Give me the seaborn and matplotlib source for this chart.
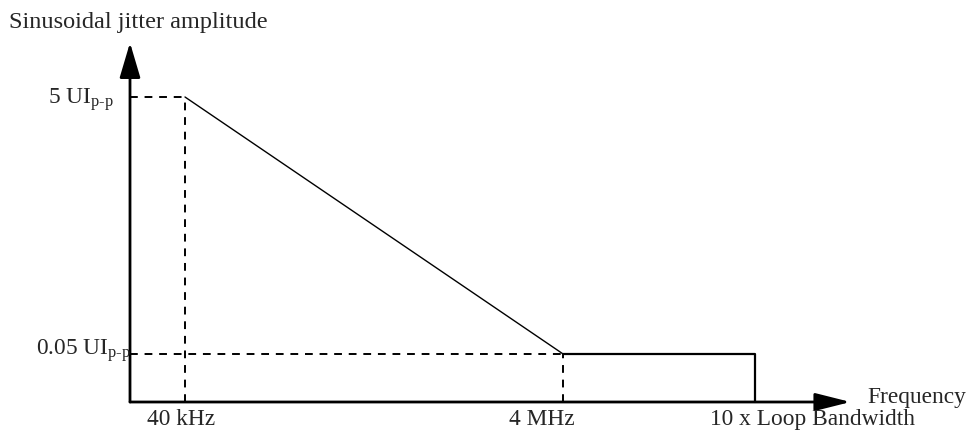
import matplotlib
matplotlib.use("Agg")
import matplotlib.pyplot as plt
import numpy as np
import pandas as pd
import seaborn as sns

# Jitter tolerance mask (schematic units, not to scale)
freq_labels = ['40 kHz', '4 MHz', '10 x Loop Bandwidth']
freq_pos = [1.0, 7.87, 11.36]          # corner frequencies on the schematic axis
amp_labels = ['5 UI', '0.05 UI']
amp_pos = [5.0, 0.79]                  # 5 UIp-p and 0.05 UIp-p levels

x_end = 13.1    # arrow tip of frequency axis
y_end = 5.89    # arrow tip of amplitude axis

sns.set_theme(style='white')
plt.rcParams['font.family'] = ['Liberation Serif', 'DejaVu Serif']
plt.rcParams['mathtext.fontset'] = 'custom'
plt.rcParams['mathtext.rm'] = 'Liberation Serif'
plt.rcParams['mathtext.it'] = 'Liberation Serif:italic'

fig = plt.figure(figsize=(9.71, 4.36), dpi=100)
ax = fig.add_axes([0, 0, 1, 1])
ax.set_xlim(-130 / 55, (971 - 130) / 55)
ax.set_ylim(-34 / 61, 402 / 61)
ax.axis('off')

# mask line: 5 UI at 40 kHz, slope down to 0.05 UI at 4 MHz, flat to 10x LBW, then drop
mask = pd.DataFrame({
    'f': [freq_pos[0], freq_pos[1], freq_pos[2], freq_pos[2]],
    'a': [amp_pos[0], amp_pos[1], amp_pos[1], 0.0],
})
sns.lineplot(data=mask.iloc[:2], x='f', y='a', sort=False, estimator=None,
             color='black', lw=1.0, ax=ax)
sns.lineplot(data=mask.iloc[1:], x='f', y='a', sort=False, estimator=None,
             color='black', lw=1.6, ax=ax)

# dashed guide lines
dash = dict(color='black', lw=1.4, ls=(0, (4, 3.5)))
ax.plot([0, freq_pos[0]], [amp_pos[0], amp_pos[0]], **dash)
ax.plot([freq_pos[0], freq_pos[0]], [0, amp_pos[0]], **dash)
ax.plot([0, freq_pos[1]], [amp_pos[1], amp_pos[1]], **dash)
ax.plot([freq_pos[1], freq_pos[1]], [0, amp_pos[1]], **dash)

# axes with arrows
arr_y = dict(arrowstyle='-|>,head_length=1.35,head_width=0.4', lw=2, color='black',
             mutation_scale=16, shrinkA=0, shrinkB=0)
arr_x = dict(arrowstyle='-|>,head_length=1.35,head_width=0.34', lw=2, color='black',
             mutation_scale=16, shrinkA=0, shrinkB=0)
ax.annotate('', xy=(0, y_end), xytext=(0, 0), arrowprops=arr_y)
ax.annotate('', xy=(x_end, 0), xytext=(0, 0), arrowprops=arr_x)

fs = 16.8
ax.text(-2.2, (402 - 28) / 61, 'Sinusoidal jitter amplitude', fontsize=17.5,
        va='baseline', ha='left')
ax.text((867 - 130) / 55, (402 - 403) / 61, 'Frequency', fontsize=fs,
        va='baseline', ha='left')

# amplitude labels
ax.text(-0.3, amp_pos[0] - 0.11, amp_labels[0] + r'$_\mathrm{p\text{-}p}$', fontsize=fs,
        ha='right', va='baseline')
ax.text(0.02, amp_pos[1] - 0.01, amp_labels[1] + r'$_\mathrm{p\text{-}p}$', fontsize=fs,
        ha='right', va='baseline')

# frequency labels
label_x = [freq_pos[0] - 0.07, freq_pos[1] - 0.38, freq_pos[2] + 1.05]
for lx, lab in zip(label_x, freq_labels):
    ax.text(lx, (402 - 425) / 61, lab, fontsize=fs, ha='center', va='baseline')

fig.savefig('out.png', dpi=100)
